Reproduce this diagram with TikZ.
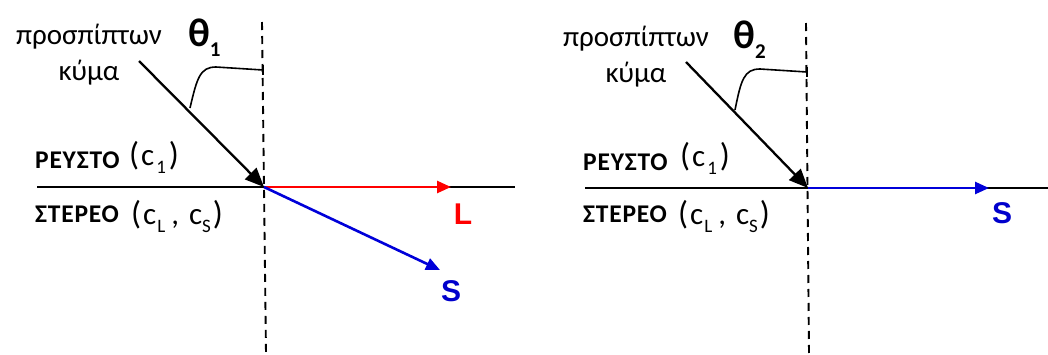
\documentclass[tikz,border=0pt]{standalone}
\usepackage{fontspec}
\setmainfont{Carlito}
\newfontfamily\arialfont{Liberation Sans}
\usetikzlibrary{arrows.meta,positioning,calc}
\newcommand{\speedsub}[1]{\raisebox{-8pt}{\fontsize{19}{20}\selectfont #1}}
\newcommand{\speedparen}[1]{{\fontsize{33}{34}\selectfont #1}}

\begin{document}
\begin{tikzpicture}[x=1pt, y=-1pt,
    interface/.style={line width=2.5pt},
    normalline/.style={line width=1.9pt, dash pattern=on 8pt off 6pt},
    incident/.style={line width=2.3pt, -{Triangle[length=19pt, width=16pt]}},
    refracted/.style={line width=2.6pt, -{Triangle[length=14pt, width=12pt]}},
    bracket/.style={line width=1.6pt},
    wavetext/.style={align=center, inner sep=0pt, font=\fontsize{29}{36}\selectfont},
    angletext/.style={anchor=base west, inner sep=0pt, font=\fontsize{40}{42}\selectfont\bfseries},
    mediumtext/.style={anchor=base west, inner sep=0pt, font=\fontsize{25.5}{28}\selectfont\bfseries\addfontfeature{LetterSpace=3}},
    speedtext/.style={anchor=base west, inner sep=0pt, font=\fontsize{31}{32}\selectfont},
    wavelabel/.style={inner sep=0pt, font=\fontsize{30}{32}\selectfont\arialfont\bfseries}]
      \useasboundingbox (0,0) rectangle (1048,354);

      % left panel: angle theta_1
      \coordinate (originA) at (264,187);
      \coordinate (topA) at (262,22);
      \coordinate (bottomA) at (266,354);
      \coordinate (leftA) at (37,187);
      \coordinate (rightA) at (515,187);
      \coordinate (sourceA) at (139,61);
      \coordinate (tipL) at (451,187);
      \coordinate (tipSA) at (440,270);

      \node (waveA) [wavetext] at (89,55) {προσπίπτων\\κύμα};
      \node (thetaA) [angletext] at (188,46) {θ\raisebox{-10pt}{\fontsize{21}{22}\selectfont 1}};
      \node (fluidA) [mediumtext] at (35,168) {ΡΕΥΣΤΟ};
      \node (fluidSpeedA) [speedtext] at (129,165) {\speedparen{(}\hspace{2pt}c\hspace{2pt}\speedsub{1}\hspace{3pt}\speedparen{)}};
      \node (solidA) [mediumtext] at (35,222) {ΣΤΕΡΕΟ};
      \node (solidSpeedA) [speedtext] at (131,224) {\speedparen{(}\hspace{2pt}c\hspace{1pt}\speedsub{L}\hspace{6pt},\hspace{10pt}c\speedsub{S}\hspace{2pt}\speedparen{)}};
      \node (labelL) [wavelabel, text=red] at (463,214) {L};
      \node (labelSA) [wavelabel, text=blue!80!black] at (451,291) {S};

      \draw[normalline] (topA) -- (bottomA);
      \draw[interface] (leftA) -- (rightA);
      \draw[incident] (sourceA) -- (originA);
      \draw[refracted, color=red] (originA) -- (tipL);
      \draw[refracted, color=blue!85!black] (originA) -- (tipSA);
      \draw[bracket] (190,108) .. controls (197,78) and (200,67) .. (216,67) -- (263,70);
      \draw[bracket] (263,65) -- (263,75);

      % right panel: angle theta_2
      \coordinate (originB) at (808,188);
      \coordinate (topB) at (806,23);
      \coordinate (bottomB) at (809,354);
      \coordinate (leftB) at (585,188);
      \coordinate (rightB) at (1048,188);
      \coordinate (sourceB) at (686,62);
      \coordinate (tipSB) at (989,188);

      \node (waveB) [wavetext] at (636,57) {προσπίπτων\\κύμα};
      \node (thetaB) [angletext] at (733,48) {θ\raisebox{-10pt}{\fontsize{21}{22}\selectfont 2}};
      \node (fluidB) [mediumtext] at (583,170) {ΡΕΥΣΤΟ};
      \node (fluidSpeedB) [speedtext] at (680,166) {\speedparen{(}\hspace{2pt}c\hspace{2pt}\speedsub{1}\hspace{3pt}\speedparen{)}};
      \node (solidB) [mediumtext] at (583,222) {ΣΤΕΡΕΟ};
      \node (solidSpeedB) [speedtext] at (678,224) {\speedparen{(}\hspace{2pt}c\hspace{1pt}\speedsub{L}\hspace{6pt},\hspace{10pt}c\speedsub{S}\hspace{2pt}\speedparen{)}};
      \node (labelSB) [wavelabel, text=blue!80!black] at (1002,213) {S};

      \draw[normalline] (topB) -- (bottomB);
      \draw[interface] (leftB) -- (rightB);
      \draw[incident] (sourceB) -- (originB);
      \draw[refracted, color=blue!85!black] (originB) -- (tipSB);
      \draw[bracket] (735,110) .. controls (741,80) and (744,69) .. (760,69) -- (807,72);
      \draw[bracket] (807,67) -- (807,77);
\end{tikzpicture}
\end{document}
